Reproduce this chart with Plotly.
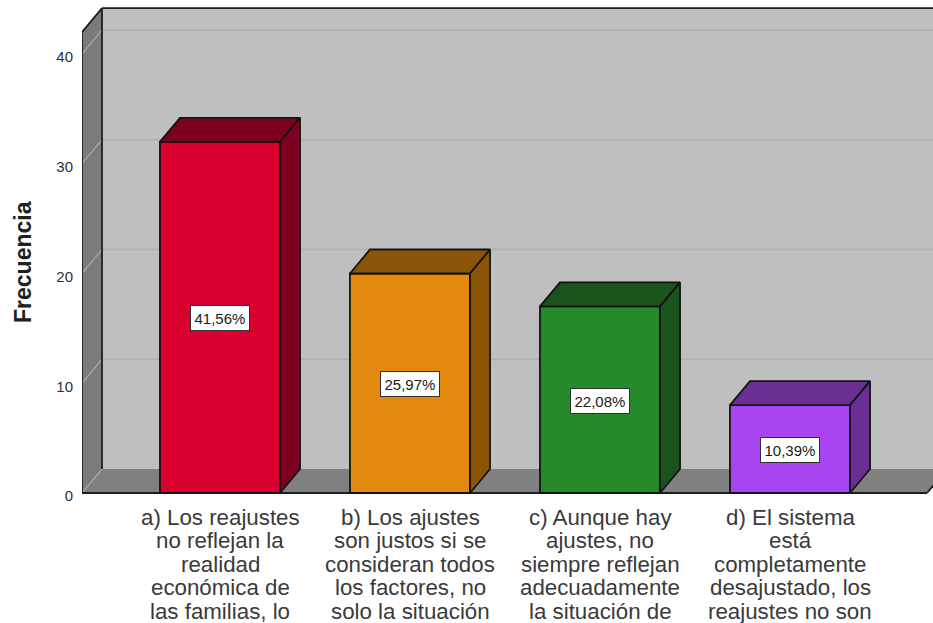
import plotly.graph_objects as go

categories = ["a", "b", "c", "d"]
frecuencia = [32, 20, 17, 8]
porcentajes = ["41,56%", "25,97%", "22,08%", "10,39%"]
category_lines = [
    ["a) Los reajustes", "no reflejan la", "realidad", "económica de", "las familias, lo"],
    ["b) Los ajustes", "son justos si se", "consideran todos", "los factores, no", "solo la situación"],
    ["c) Aunque hay", "ajustes, no", "siempre reflejan", "adecuadamente", "la situación de"],
    ["d) El sistema", "está", "completamente", "desajustado, los", "reajustes no son"],
]
y_ticks = [0, 10, 20, 30, 40]
front_colors = ["#D90030", "#E38A0E", "#278A2A", "#A845F0"]
dark_colors = ["#7E0020", "#8B5508", "#1A531C", "#6A2E94"]

BAR_W = 0.632
DX = 20 / 190
DY = 24 / 10.975
X0, X1 = -138 / 190, 707 / 190
AX1 = 713 / 190
Y_TOP = 42
OUT = "#141414"

idx = list(range(len(categories)))
fig = go.Figure()

fig.add_trace(go.Bar(x=idx, y=frecuencia, width=BAR_W, marker=dict(color=front_colors, line=dict(color=OUT, width=1.8)),
                     showlegend=False, hoverinfo="skip"))

for i, v in zip(idx, frecuencia):
    l, r = i - BAR_W / 2, i + BAR_W / 2
    fig.add_trace(go.Scatter(x=[l, r, r + DX, l + DX, l], y=[v, v, v + DY, v + DY, v], mode="lines", fill="toself",
                             fillcolor=dark_colors[i], line=dict(color=OUT, width=1.8), showlegend=False, hoverinfo="skip"))
    fig.add_trace(go.Scatter(x=[r, r + DX, r + DX, r, r], y=[0, DY, v + DY, v, 0], mode="lines", fill="toself",
                             fillcolor=dark_colors[i], line=dict(color=OUT, width=1.8), showlegend=False, hoverinfo="skip"))

def poly(pts):
    return "M " + " L ".join(f"{a},{b}" for a, b in pts) + " Z"

XR = X1 + 2 * DX
shapes = [
    dict(type="path", layer="below", xref="x", yref="y", line=dict(width=0), fillcolor="#BFBFBF",
         path=poly([(X0 + DX, DY), (XR, DY), (XR, Y_TOP + DY), (X0 + DX, Y_TOP + DY)])),
    dict(type="path", layer="below", xref="x", yref="y", line=dict(width=0), fillcolor="#7B7B7B",
         path=poly([(X0, 0), (X0 + DX, DY), (X0 + DX, Y_TOP + DY), (X0, Y_TOP)])),
    dict(type="path", layer="below", xref="x", yref="y", line=dict(width=0), fillcolor="#808080",
         path=poly([(X0, 0), (X1, 0), (X1 + DX, DY), (X0 + DX, DY)])),
]
for t in y_ticks:
    shapes.append(dict(type="line", layer="below", xref="x", yref="y", x0=X0, y0=t, x1=X0 + DX, y1=t + DY,
                       line=dict(color="#A8A8A8", width=1.2)))
    if t > 0:
        shapes.append(dict(type="line", layer="below", xref="x", yref="y", x0=X0 + DX, y0=t + DY, x1=XR, y1=t + DY,
                           line=dict(color="#B2B2B2", width=2)))
for a, b in [((X0, 0), (X1, 0)), ((X0, 0), (X0, Y_TOP)), ((X0, Y_TOP), (X0 + DX, Y_TOP + DY)),
             ((X0 + DX, Y_TOP + DY), (XR, Y_TOP + DY)), ((X0 + DX, DY), (X0 + DX, Y_TOP + DY)),
             ((X1, 0), (X1 + DX, DY))]:
    shapes.append(dict(type="line", layer="below", xref="x", yref="y", x0=a[0], y0=a[1], x1=b[0], y1=b[1],
                       line=dict(color="#1E1E1E", width=1.8)))

annotations = []
for i, v in zip(idx, frecuencia):
    annotations.append(dict(x=i, y=v / 2, xref="x", yref="y", yshift=-1, text=porcentajes[i], showarrow=False,
                            font=dict(family="Liberation Sans", size=15, color="#1A1A1A"),
                            bgcolor="white", bordercolor="#303030", borderwidth=1, borderpad=3.5))
    for n, line in enumerate(category_lines[i]):
        annotations.append(dict(x=i, y=0, xref="x", yref="y", yshift=-(24 + 23.6 * n), text=line, showarrow=False,
                                yanchor="middle", font=dict(family="Liberation Sans", size=22.3, color="#3A3A3A")))
annotations.append(dict(x=0, xref="paper", xshift=-74, y=(496 - 262) / 491, yref="paper", text="<b>Frecuencia</b>",
                        textangle=-90, showarrow=False, font=dict(family="Liberation Sans", size=23, color="#202020")))

fig.update_layout(
    width=933, height=623, margin=dict(l=82, r=0, t=5, b=127, pad=0),
    paper_bgcolor="white", plot_bgcolor="rgba(0,0,0,0)", showlegend=False,
    shapes=shapes, annotations=annotations,
    xaxis=dict(range=[X0, AX1], showgrid=False, zeroline=False, showline=False, tickvals=[], fixedrange=True),
    yaxis=dict(range=[-3 / 10.975, 488 / 10.975], showgrid=False, zeroline=False, showline=False,
               tickvals=y_ticks, ticks="", ticklabelstandoff=8, ticklabelshift=3,
               tickfont=dict(family="Liberation Sans", size=15, color="#303030")),
)
fig.write_html("out.html", config=dict(displayModeBar=False),
               post_script="document.body.style.margin='0';document.documentElement.style.overflow='hidden';")
